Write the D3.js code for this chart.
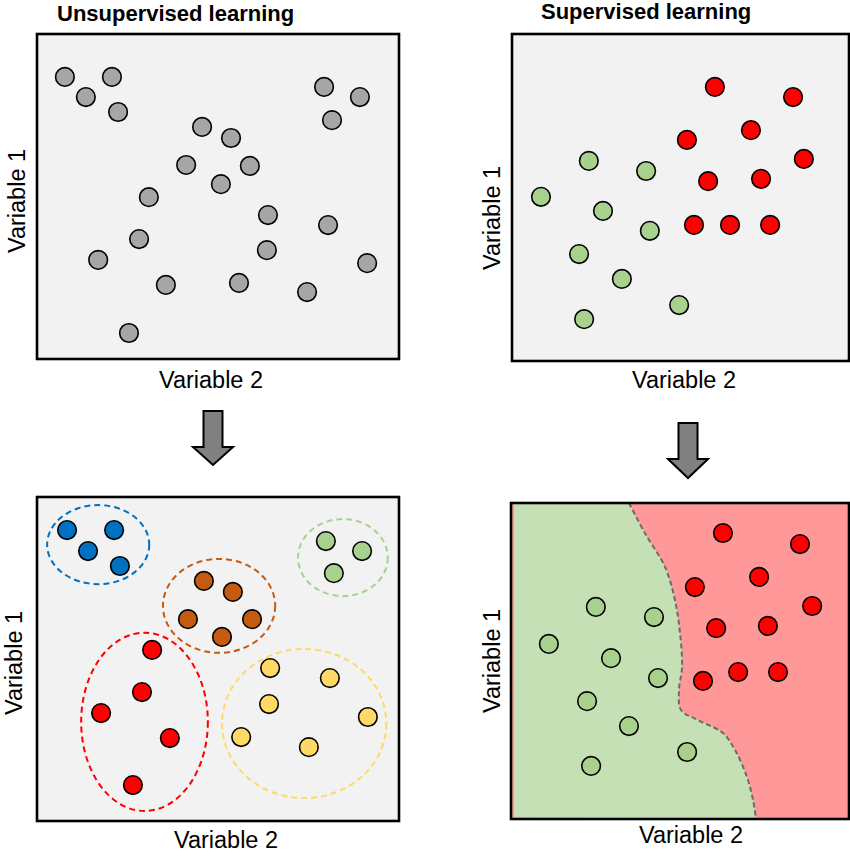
<!DOCTYPE html>
<html><head><meta charset="utf-8">
<script src="https://cdn.jsdelivr.net/npm/d3@7"></script>
<style>html,body{margin:0;padding:0;background:#fff;}svg{display:block;}</style>
</head><body>
<svg id="chart" width="850" height="857"></svg>
<script>
// ---------- DATA (values in 0-100 units: x = Variable 2, y = Variable 1) ----------
const titles = ["Unsupervised learning", "Supervised learning"];
const xLabel = "Variable 2";
const yLabel = "Variable 1";

// Panel A: unlabeled points
const rawX = [7.7,20.7,13.5,22.4,45.6,53.6,41.2,58.8,50.8,30.9,63.8,80.4,28.2,63.5,16.9,91.2,35.6,55.8,74.6,25.4,79.3,89.2,81.5];
const rawY = [86.8,86.8,80.6,76.0,71.4,68.0,59.7,59.4,53.8,49.8,44.3,41.2,36.9,33.5,30.5,29.5,22.8,23.4,20.6,8.0,83.7,80.6,73.5];

// Panel B: labelled points
const supRedX = [60.2,83.4,70.9,51.9,86.6,58.2,73.9,54.0,64.7,76.6];
const supRedY = [83.8,80.7,70.6,67.6,61.8,55.0,55.7,41.6,41.6,41.6];
const supGreenX = [22.8,39.8,8.6,27.0,40.9,19.9,32.6,49.6,21.4];
const supGreenY = [61.2,58.1,50.2,45.9,39.8,32.7,25.1,17.1,12.8];

// Panel C: clusters
const clusterNames = ["blue","brown","green","red","yellow"];
const clusterX = [
  [8.3,21.3,14.1,22.9],
  [46.1,54.1,41.7,59.4,51.1],
  [79.8,89.8,82.0],
  [31.8,29.0,17.7,36.7,26.5],
  [64.4,80.9,64.1,91.4,56.4,75.1]
];
const clusterY = [
  [89.8,89.8,83.3,78.7],
  [74.1,70.7,62.3,62.3,56.8],
  [86.4,83.3,76.5],
  [52.8,39.8,33.3,25.6,11.1],
  [47.2,44.1,36.1,32.1,25.9,22.8]
];
// cluster ellipse: center x, center y, radius x, radius y
const ellipseCX = [16.9,50.3,84.5,29.7,73.8];
const ellipseCY = [85.3,66.4,81.3,30.6,30.1];
const ellipseRX = [14.1,15.5,12.4,17.5,22.7];
const ellipseRY = [12.2,14.5,11.9,27.5,23.0];

// Panel D: classified points + decision boundary
const clsRedX = [62.7,85.5,73.4,54.4,89.1,60.7,76.0,56.8,67.2,79.0];
const clsRedY = [90.5,87.0,76.6,73.4,67.4,60.4,61.1,43.7,46.5,46.5];
const clsGreenX = [25.1,42.3,11.2,29.6,43.5,22.5,34.9,52.1,23.7];
const clsGreenY = [67.1,63.9,55.4,50.9,44.6,37.3,29.4,21.2,16.8];
const boundaryX = [34.9,39.6,45.6,48.5,50.0,50.6,49.7,50.3,55.3,62.7,66.3,69.8,71.6,72.5];
const boundaryY = [100,90.5,79.7,69.3,58.9,48.1,40.8,34.5,31.3,27.2,21.8,13.3,6.0,0];

// ---------- STYLE / LAYOUT ----------
const colors = {
  gray:"#A6A6A6", blue:"#0070C0", brown:"#C55A11", green:"#A9D18E",
  red:"#FF0000", yellow:"#FFD966", bg:"#F2F2F2",
  regionRed:"#FF9999", regionGreen:"#C5E0B4"
};
const panels = {
  A:{x0:37,y0:34,x1:399,y1:359, ylab:{x:25,y:201}, xlab:{x:211,y:388}},
  B:{x0:512,y0:34,x1:849,y1:361, ylab:{x:500,y:218}, xlab:{x:684,y:388}},
  C:{x0:37,y0:497,x1:399,y1:821, ylab:{x:22,y:663}, xlab:{x:226,y:848}},
  D:{x0:511,y0:503,x1:849,y1:819, ylab:{x:500,y:661}, xlab:{x:691,y:843}}
};
const R = 9.3;
const FONT = "'Liberation Sans', Arial, sans-serif";

const svg = d3.select("#chart");

function scales(p){
  return {
    x: d3.scaleLinear().domain([0,100]).range([p.x0,p.x1]),
    y: d3.scaleLinear().domain([0,100]).range([p.y1,p.y0])
  };
}
function background(p, fill){
  svg.append("rect").attr("x",p.x0).attr("y",p.y0)
    .attr("width",p.x1-p.x0).attr("height",p.y1-p.y0).attr("fill",fill);
}
function frame(p){
  svg.append("rect").attr("x",p.x0).attr("y",p.y0)
    .attr("width",p.x1-p.x0).attr("height",p.y1-p.y0)
    .attr("fill","none").attr("stroke","#000").attr("stroke-width",2.6);
}
function labels(p){
  svg.append("text").attr("x",p.xlab.x).attr("y",p.xlab.y)
    .attr("text-anchor","middle").attr("font-family",FONT).attr("font-size",23.5)
    .attr("fill","#000").text(xLabel);
  svg.append("text").attr("transform",`translate(${p.ylab.x},${p.ylab.y}) rotate(-90)`)
    .attr("text-anchor","middle").attr("font-family",FONT).attr("font-size",23.5)
    .attr("fill","#000").text(yLabel);
}
function dots(s, xs, ys, fill){
  svg.append("g").selectAll("circle").data(xs.map((x,i)=>({x, y:ys[i]})))
    .join("circle")
    .attr("cx",d=>s.x(d.x)).attr("cy",d=>s.y(d.y)).attr("r",R)
    .attr("fill",fill).attr("stroke","#000").attr("stroke-width",1.6);
}

// ---------- Panel A ----------
{
  const p = panels.A, s = scales(p);
  background(p, colors.bg);
  dots(s, rawX, rawY, colors.gray);
  frame(p); labels(p);
}
// ---------- Panel B ----------
{
  const p = panels.B, s = scales(p);
  background(p, colors.bg);
  dots(s, supRedX, supRedY, colors.red);
  dots(s, supGreenX, supGreenY, colors.green);
  frame(p); labels(p);
}
// ---------- Panel C ----------
{
  const p = panels.C, s = scales(p);
  background(p, colors.bg);
  const ellipseColor = {blue:"#0070C0",brown:"#C55A11",green:"#A9D18E",red:"#FF0000",yellow:"#FFD966"};
  svg.append("g").selectAll("ellipse").data(clusterNames.map((n,i)=>({n,i})))
    .join("ellipse")
    .attr("cx",d=>s.x(ellipseCX[d.i])).attr("cy",d=>s.y(ellipseCY[d.i]))
    .attr("rx",d=>s.x(ellipseRX[d.i])-s.x(0))
    .attr("ry",d=>s.y(0)-s.y(ellipseRY[d.i]))
    .attr("fill","none").attr("stroke",d=>ellipseColor[d.n])
    .attr("stroke-width",2).attr("stroke-dasharray","6,4");
  clusterNames.forEach((n,i)=>dots(s, clusterX[i], clusterY[i], colors[n]));
  frame(p); labels(p);
}
// ---------- Panel D ----------
{
  const p = panels.D, s = scales(p);
  background(p, colors.regionRed);
  const bpts = boundaryX.map((x,i)=>[x, boundaryY[i]]);
  const line = d3.line().x(d=>s.x(d[0])).y(d=>s.y(d[1])).curve(d3.curveCatmullRom.alpha(0.5));
  const bpath = line(bpts);
  // green region: boundary then back along bottom/left edges
  const greenPath = bpath + `L${s.x(0.9)},${s.y(0.5)}L${s.x(0.9)},${s.y(100)}Z`;
  svg.append("path").attr("d",greenPath).attr("fill",colors.regionGreen);
  svg.append("path").attr("d",bpath).attr("fill","none")
    .attr("stroke","#6b6b6b").attr("stroke-width",2).attr("stroke-dasharray","5,3");
  dots(s, clsRedX, clsRedY, colors.red);
  dots(s, clsGreenX, clsGreenY, colors.green);
  frame(p); labels(p);
}

// ---------- Titles ----------
svg.append("text").attr("x",57).attr("y",21).attr("font-family",FONT)
  .attr("font-weight","bold").attr("font-size",22).text(titles[0]);
svg.append("text").attr("x",541).attr("y",19).attr("font-family",FONT)
  .attr("font-weight","bold").attr("font-size",22).text(titles[1]);

// ---------- Arrows ----------
function arrow(cx, top, shaftBottom, tip, shaftHalf, headHalf){
  const pts = [[cx-shaftHalf,top],[cx+shaftHalf,top],[cx+shaftHalf,shaftBottom],
    [cx+headHalf,shaftBottom],[cx,tip],[cx-headHalf,shaftBottom],[cx-shaftHalf,shaftBottom]];
  svg.append("path").attr("d",d3.line()(pts)+"Z")
    .attr("fill","#808080").attr("stroke","#000").attr("stroke-width",2).attr("stroke-linejoin","miter");
}
arrow(213, 411, 447, 465, 9.5, 20);
arrow(688, 423, 459, 478, 9.5, 20);
</script>
</body></html>
